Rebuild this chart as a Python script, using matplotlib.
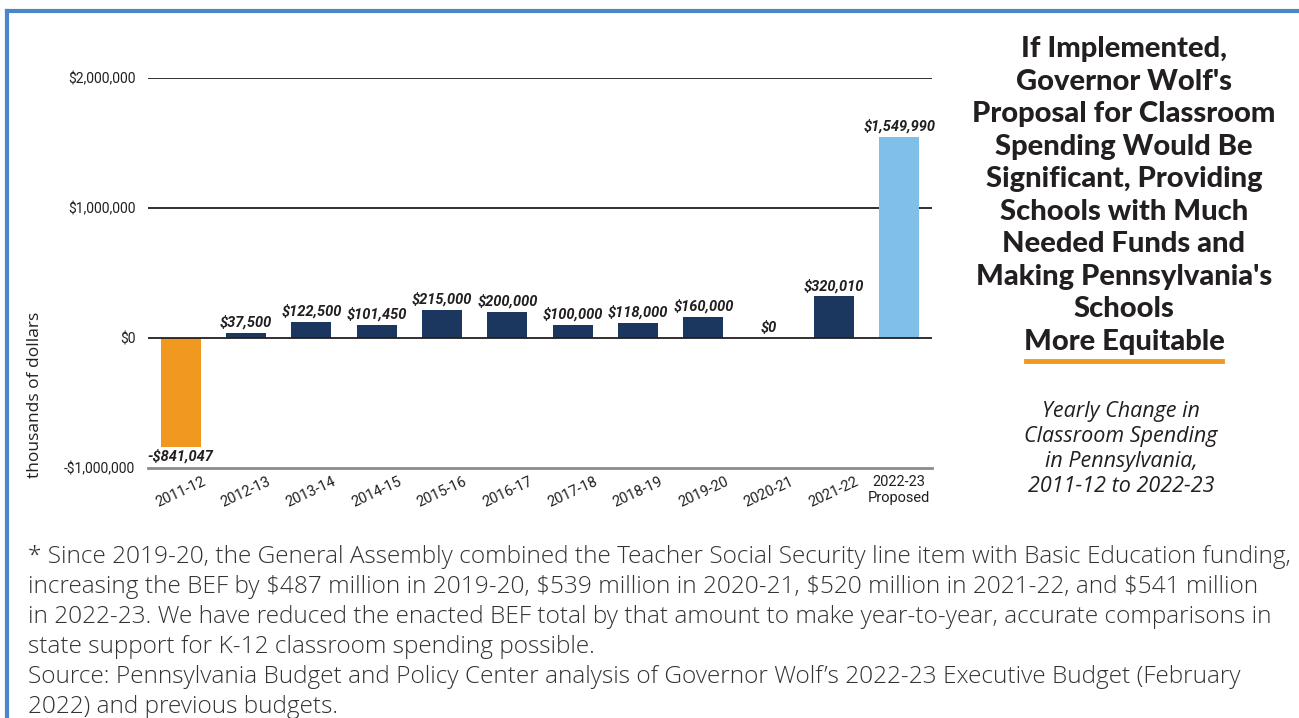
import matplotlib.pyplot as plt
from matplotlib.lines import Line2D
from matplotlib.ticker import FuncFormatter

# Yearly change in classroom spending (thousands of dollars)
anos = ['2011-12', '2012-13', '2013-14', '2014-15', '2015-16', '2016-17',
        '2017-18', '2018-19', '2019-20', '2020-21', '2021-22', '2022-23\nProposed']
valores = [-841047, 37500, 122500, 101450, 215000, 200000,
           100000, 118000, 160000, 0, 320010, 1549990]
rotulos = ['-$841,047', '$37,500', '$122,500', '$101,450', '$215,000', '$200,000',
           '$100,000', '$118,000', '$160,000', '$0', '$320,010', '$1,549,990']

LARANJA = '#F0981F'
AZUL = '#1B365F'
AZUL_CLARO = '#7FBFE8'
cores = [LARANJA] + [AZUL] * 10 + [AZUL_CLARO]
TEXTO = '#231F20'

fig = plt.figure(figsize=(12.99, 7.18), dpi=100)
ax = fig.add_axes([148 / 1299, 1 - 468 / 718, (932 - 148) / 1299, (468 - 78) / 718])

x = list(range(len(anos)))
ax.bar(x, valores, width=0.61, color=cores, zorder=3)
ax.set_xlim(-0.5, len(anos) - 0.5)
ax.set_ylim(-1000000, 2000000)

# linhas de grade
for y in [2000000, 1000000, 0]:
    ax.axhline(y, color=TEXTO, lw=1.3, zorder=4 if y == 0 else 1)

for s in ['top', 'right', 'left']:
    ax.spines[s].set_visible(False)
ax.spines['bottom'].set_color('#8C8C8C')
ax.spines['bottom'].set_linewidth(2)

ax.set_yticks([-1000000, 0, 1000000, 2000000])
ax.yaxis.set_major_formatter(FuncFormatter(
    lambda v, p: ('-$' if v < 0 else '$') + f'{abs(int(v)):,}'))
ax.tick_params(axis='y', length=0, pad=9, labelsize=10, labelcolor=TEXTO)
ax.tick_params(axis='x', length=0, pad=5, labelsize=10.5, labelcolor=TEXTO)
for lbl in ax.get_yticklabels():
    lbl.set_family('Roboto')
ax.set_xticks(x)
ax.set_xticklabels(anos, family='Roboto')
for i, lbl in enumerate(ax.get_xticklabels()):
    if i < len(anos) - 1:
        lbl.set_rotation(25)
        lbl.set_ha('center')
        lbl.set_va('top')

# rotulos de valor
for i, (v, r) in enumerate(zip(valores, rotulos)):
    if v < 0:
        ax.text(i, v - 15000, r, ha='center', va='top', fontsize=10.5,
                fontweight='bold', fontstyle='italic', family='Roboto',
                color=TEXTO, zorder=5)
    else:
        ax.text(i, v + 25000, r, ha='center', va='bottom', fontsize=10.5,
                fontweight='bold', fontstyle='italic', family='Roboto',
                color=TEXTO, zorder=5)

fig.text(35 / 1299, 1 - 395 / 718, 'thousands of dollars', rotation=90,
         ha='center', va='center', fontsize=12.5, color=TEXTO, family='Open Sans')

# titulo a direita
titulo = ("If Implemented,\nGovernor Wolf's\nProposal for Classroom\n"
          "Spending Would Be\nSignificant, Providing\nSchools with Much\n"
          "Needed Funds and\nMaking Pennsylvania's\nSchools\nMore Equitable")
fig.text(1124 / 1299, 1 - 36 / 718, titulo, ha='center', va='top', fontsize=21,
         fontweight='black', family='Lato', color=TEXTO, linespacing=1.31)
fig.add_artist(Line2D([1026 / 1299, 1222 / 1299], [1 - 361 / 718, 1 - 361 / 718],
                      color=LARANJA, lw=3.5))

subtitulo = "Yearly Change in\nClassroom Spending\nin Pennsylvania,\n2011-12 to 2022-23"
fig.text(1121 / 1299, 1 - 401 / 718, subtitulo, ha='center', va='top', fontsize=15.5,
         fontstyle='italic', family='Open Sans', color=TEXTO, linespacing=1.25)

# notas de rodape
nota = ("* Since 2019-20, the General Assembly combined the Teacher Social Security line item with Basic Education funding,\n"
        "increasing the BEF by $487 million in 2019-20, $539 million in 2020-21, $520 million in 2021-22, and $541 million\n"
        "in 2022-23. We have reduced the enacted BEF total by that amount to make year-to-year, accurate comparisons in\n"
        "state support for K-12 classroom spending possible.\n"
        "Source: Pennsylvania Budget and Policy Center analysis of Governor Wolf\u2019s 2022-23 Executive Budget (February\n"
        "2022) and previous budgets.")
fig.text(28 / 1299, 1 - 545 / 718, nota, ha='left', va='top', fontsize=17.6,
         fontweight='light', family='Open Sans', color='#333333', linespacing=1.33,
         parse_math=False)

# moldura azul
borda = '#4A86C8'
fig.add_artist(Line2D([7 / 1299, 1.0], [1 - 11 / 718, 1 - 11 / 718], color=borda, lw=3))
fig.add_artist(Line2D([7 / 1299, 7 / 1299], [0, 1 - 11 / 718], color=borda, lw=3))

fig.savefig('out.png', dpi=100)
